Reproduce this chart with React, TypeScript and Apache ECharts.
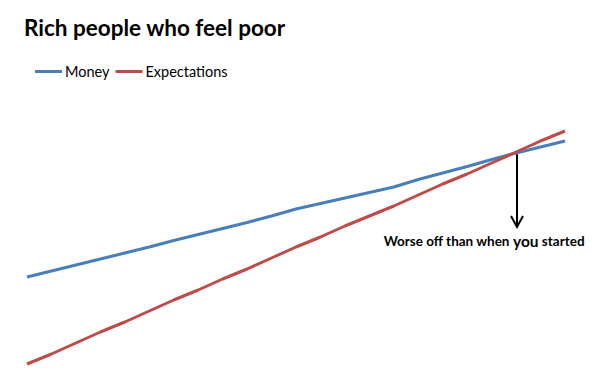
import React, { useEffect, useRef } from "react";
import * as echarts from "echarts";

const periods: string[] = Array.from({ length: 23 }, (_, i) => `P${i + 1}`);
const money: number[] = [109, 115, 121, 127, 133, 139, 145.5, 151.5, 157.5, 163.5, 170, 177, 182.5, 188, 193.5, 199, 206.5, 213, 219.5, 226.5, 233, 239, 245];
const expectations: number[] = [22, 32, 43, 54, 64, 75, 86, 96, 107, 117, 128, 139, 149, 160, 170, 180, 191, 202, 212, 223, 234, 245, 255];
const seriesNames: string[] = ["Money", "Expectations"];
const titleText = "Rich people who feel poor";

const FONT = "Lato, 'Open Sans', sans-serif";

export default function App() {
  const ref = useRef<HTMLDivElement>(null);
  useEffect(() => {
    if (!ref.current) return;
    const chart = echarts.init(ref.current, undefined, { renderer: "svg" });
    chart.setOption({
      animation: false,
      backgroundColor: "#ffffff",
      title: {
        text: titleText,
        left: 19,
        top: 11,
        textStyle: { fontFamily: FONT, fontWeight: "bold", fontSize: 22.5, color: "#000" },
      },
      legend: {
        left: 30,
        top: 59,
        itemWidth: 27,
        itemHeight: 3,
        itemGap: 6,
        icon: "rect",
        data: seriesNames,
        textStyle: { fontFamily: FONT, fontSize: 14.5, color: "#000", padding: [0, 0, 0, -2] },
      },
      grid: { left: 27, right: 616 - 565, top: 86, bottom: 0, containLabel: false },
      xAxis: {
        type: "category",
        data: periods,
        boundaryGap: false,
        show: false,
      },
      yAxis: { type: "value", min: 0, max: 300, show: false },
      series: [
        {
          name: seriesNames[0],
          type: "line",
          data: money,
          symbol: "none",
          lineStyle: { width: 3, color: "#4A7EBB" },
          itemStyle: { color: "#4A7EBB" },
        },
        {
          name: seriesNames[1],
          type: "line",
          data: expectations,
          symbol: "none",
          lineStyle: { width: 3, color: "#BE4B48" },
          itemStyle: { color: "#BE4B48" },
        },
      ],
      graphic: [
        { type: "line", shape: { x1: 517, y1: 152, x2: 517, y2: 226 }, style: { stroke: "#000", lineWidth: 2 } },
        { type: "polyline", shape: { points: [[511, 216], [517, 227], [523, 216]] }, style: { stroke: "#000", lineWidth: 2, fill: null } },
        {
          type: "text",
          x: 484,
          y: 241,
          style: {
            text: "{a|Worse off than when }{b|you}{a| started}",
            align: "center",
            verticalAlign: "middle",
            rich: {
              a: { fontFamily: FONT, fontWeight: "bold", fontSize: 13.5, fill: "#000" },
              b: { fontFamily: FONT, fontWeight: "bold", fontSize: 15.5, fill: "#000" },
            },
          },
        },
      ],
    });
    return () => chart.dispose();
  }, []);
  return <div ref={ref} style={{ position: "fixed", left: 0, top: 0, width: 616, height: 386 }} />;
}
